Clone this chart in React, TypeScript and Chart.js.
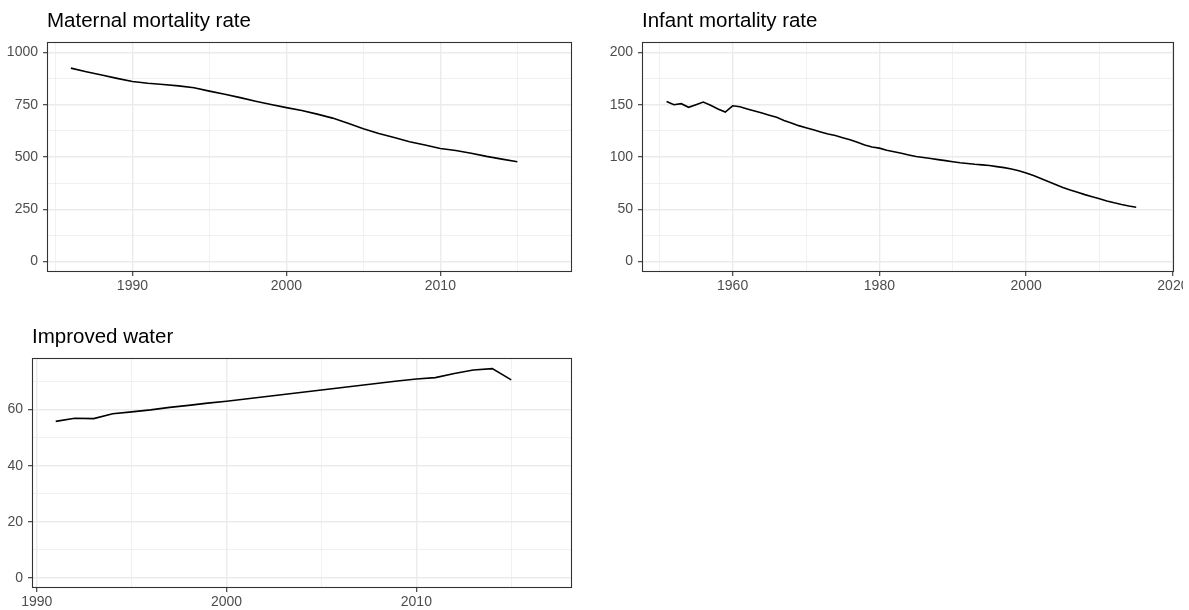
import React, { useEffect, useRef } from "react";
import { Chart, registerables } from "chart.js";

Chart.register(...registerables);

// ---------- Data ----------
const maternalYears = [
  1986, 1987, 1988, 1989, 1990, 1991, 1992, 1993, 1994, 1995,
  1996, 1997, 1998, 1999, 2000, 2001, 2002, 2003, 2004, 2005,
  2006, 2007, 2008, 2009, 2010, 2011, 2012, 2013, 2014, 2015,
];
const maternalValues = [
  925, 908, 892, 876, 861, 853, 847, 840, 831, 815,
  800, 784, 767, 751, 736, 722, 705, 686, 661, 635,
  612, 593, 573, 557, 541, 531, 518, 503, 490, 477,
];

const infantYears = [
  1951, 1952, 1953, 1954, 1955, 1956, 1957, 1958, 1959, 1960,
  1961, 1962, 1963, 1964, 1965, 1966, 1967, 1968, 1969, 1970,
  1971, 1972, 1973, 1974, 1975, 1976, 1977, 1978, 1979, 1980,
  1981, 1982, 1983, 1984, 1985, 1986, 1987, 1988, 1989, 1990,
  1991, 1992, 1993, 1994, 1995, 1996, 1997, 1998, 1999, 2000,
  2001, 2002, 2003, 2004, 2005, 2006, 2007, 2008, 2009, 2010,
  2011, 2012, 2013, 2014, 2015,
];
const infantValues = [
  153, 150, 151, 147.5, 150, 152.5, 149.5, 146, 143, 149,
  148, 146, 144, 142, 140, 138, 135, 132.5, 130, 128,
  126, 124, 122, 120.5, 118.5, 116.5, 114, 111.5, 109.5, 108.5,
  106.5, 105, 103.5, 102, 100.5, 99.5, 98.5, 97.5, 96.5, 95.5,
  94.5, 93.8, 93, 92.5, 91.8, 90.8, 89.8, 88.5, 86.8, 84.7,
  82.2, 79.4, 76.6, 73.7, 70.9, 68.4, 66.2, 64, 62, 60,
  58, 56.2, 54.6, 53.2, 52,
];

const waterYears = [
  1991, 1992, 1993, 1994, 1995, 1996, 1997, 1998, 1999, 2000,
  2001, 2002, 2003, 2004, 2005, 2006, 2007, 2008, 2009, 2010,
  2011, 2012, 2013, 2014, 2015,
];
const waterValues = [
  55.8, 56.9, 56.8, 58.5, 59.2, 59.9, 60.8, 61.5, 62.3, 63.0,
  63.8, 64.6, 65.4, 66.2, 67.0, 67.8, 68.6, 69.4, 70.2, 70.9,
  71.4, 72.9, 74.1, 74.6, 70.6,
];

// Tick values
const maternalXMajor = [1990, 2000, 2010];
const maternalXMinor = [1985, 1995, 2005, 2015];
const maternalYMajor = [0, 250, 500, 750, 1000];
const maternalYMinor = [125, 375, 625, 875];

const infantXMajor = [1960, 1980, 2000, 2020];
const infantXMinor = [1950, 1970, 1990, 2010];
const infantYMajor = [0, 50, 100, 150, 200];
const infantYMinor = [25, 75, 125, 175];

const waterXMajor = [1990, 2000, 2010];
const waterXMinor = [1995, 2005, 2015];
const waterYMajor = [0, 20, 40, 60];
const waterYMinor = [10, 30, 50, 70];

// ---------- Styling ----------
const FONT = '"Liberation Sans", Arial, Helvetica, sans-serif';
const GRID = "#EBEBEB";
const DARK = "#333333";
const TICK_TEXT = "#4D4D4D";
const TICK_SIZE = 14;
const TITLE_SIZE = 20.5;

type Spec = {
  title: string;
  years: number[];
  values: number[];
  xRange: [number, number];
  yRange: [number, number];
  xMajor: number[];
  xMinor: number[];
  yMajor: number[];
  yMinor: number[];
  left: number;
  top: number;
  width: number;
  height: number;
  yAxisWidth: number;
  padRight: number;
  plotBottom: number;
};

const panelBorder = {
  id: "panelBorder",
  afterDraw(chart: any) {
    const { ctx, chartArea: a } = chart;
    ctx.save();
    ctx.strokeStyle = DARK;
    ctx.lineWidth = 1.1;
    const l = Math.round(a.left) + 0.5;
    const t = Math.round(a.top) + 0.5;
    const r = Math.round(a.right) - 0.5;
    const b = Math.round(a.bottom) - 0.5;
    ctx.strokeRect(l, t, r - l, b - t);
    ctx.restore();
  },
};

function makeTicks(major: number[], minor: number[]) {
  return [...major, ...minor].sort((a, b) => a - b).map((v) => ({ value: v }));
}

function ChartPanel({ spec }: { spec: Spec }) {
  const ref = useRef<HTMLCanvasElement>(null);
  useEffect(() => {
    const canvas = ref.current;
    if (!canvas) return;
    const isXMajor = (v: number) => spec.xMajor.includes(v);
    const isYMajor = (v: number) => spec.yMajor.includes(v);
    const chart = new Chart(canvas, {
      type: "line",
      data: {
        datasets: [
          {
            data: spec.years.map((x, i) => ({ x, y: spec.values[i] })),
            borderColor: "#000000",
            borderWidth: 1.6,
            pointRadius: 0,
            tension: 0,
            fill: false,
          },
        ],
      },
      options: {
        responsive: false,
        animation: false,
        devicePixelRatio: 1,
        layout: { padding: { left: 0, right: spec.padRight, top: 0, bottom: 0 } },
        plugins: {
          legend: { display: false },
          tooltip: { enabled: false },
          title: {
            display: true,
            text: spec.title,
            align: "start",
            fullSize: false,
            color: "#000000",
            font: { family: FONT, size: TITLE_SIZE, weight: "normal", lineHeight: 1.2 },
            padding: { top: 8.9, bottom: 8.5 },
          },
        },
        scales: {
          x: {
            type: "linear",
            min: spec.xRange[0],
            max: spec.xRange[1],
            afterBuildTicks: (axis: any) => {
              axis.ticks = makeTicks(spec.xMajor, spec.xMinor);
            },
            afterFit: (axis: any) => {
              axis.height = spec.height - spec.plotBottom;
              axis.paddingLeft = 0;
              axis.paddingRight = 0;
            },
            ticks: {
              autoSkip: false,
              maxRotation: 0,
              minRotation: 0,
              padding: 3.5,
              color: TICK_TEXT,
              font: { family: FONT, size: TICK_SIZE, lineHeight: 1 },
              callback: (v: any) => (isXMajor(Number(v)) ? String(v) : ""),
            },
            grid: {
              color: GRID,
              lineWidth: (ctx: any) => (ctx.tick && isXMajor(ctx.tick.value) ? 1.4 : 0.7),
              tickColor: (ctx: any) => (ctx.tick && isXMajor(ctx.tick.value) ? DARK : "rgba(0,0,0,0)"),
              tickLength: 4,
              tickWidth: 1.1,
            },
            border: { display: false },
          },
          y: {
            type: "linear",
            min: spec.yRange[0],
            max: spec.yRange[1],
            afterBuildTicks: (axis: any) => {
              axis.ticks = makeTicks(spec.yMajor, spec.yMinor);
            },
            afterFit: (axis: any) => {
              axis.width = spec.yAxisWidth;
              axis.paddingTop = 0;
              axis.paddingBottom = 0;
            },
            ticks: {
              autoSkip: false,
              padding: 5,
              color: TICK_TEXT,
              font: { family: FONT, size: TICK_SIZE, lineHeight: 1 },
              callback: (v: any) => (isYMajor(Number(v)) ? String(v) : ""),
            },
            grid: {
              color: GRID,
              lineWidth: (ctx: any) => (ctx.tick && isYMajor(ctx.tick.value) ? 1.4 : 0.7),
              tickColor: (ctx: any) => (ctx.tick && isYMajor(ctx.tick.value) ? DARK : "rgba(0,0,0,0)"),
              tickLength: 4,
              tickWidth: 1.1,
            },
            border: { display: false },
          },
        },
      } as any,
      plugins: [panelBorder],
    });
    return () => chart.destroy();
  }, [spec]);
  return (
    <canvas
      ref={ref}
      width={spec.width}
      height={spec.height}
      style={{
        position: "absolute",
        left: spec.left,
        top: spec.top,
        width: spec.width,
        height: spec.height,
      }}
    />
  );
}

const panels: Spec[] = [
  {
    title: "Maternal mortality rate",
    years: maternalYears,
    values: maternalValues,
    xRange: [1984.45, 2018.55],
    yRange: [-50, 1050],
    xMajor: maternalXMajor,
    xMinor: maternalXMinor,
    yMajor: maternalYMajor,
    yMinor: maternalYMinor,
    left: 0,
    top: 0,
    width: 590,
    height: 305,
    yAxisWidth: 47,
    padRight: 18,
    plotBottom: 272,
  },
  {
    title: "Infant mortality rate",
    years: infantYears,
    values: infantValues,
    xRange: [1947.65, 2020.15],
    yRange: [-10, 210],
    xMajor: infantXMajor,
    xMinor: infantXMinor,
    yMajor: infantYMajor,
    yMinor: infantYMinor,
    left: 595,
    top: 0,
    width: 588,
    height: 305,
    yAxisWidth: 47,
    padRight: 9,
    plotBottom: 272,
  },
  {
    title: "Improved water",
    years: waterYears,
    values: waterValues,
    xRange: [1989.75, 2018.2],
    yRange: [-3.6, 78.4],
    xMajor: waterXMajor,
    xMinor: waterXMinor,
    yMajor: waterYMajor,
    yMinor: waterYMinor,
    left: 0,
    top: 316,
    width: 590,
    height: 294,
    yAxisWidth: 32,
    padRight: 18,
    plotBottom: 272,
  },
];

export default function App() {
  return (
    <div
      style={{
        position: "absolute",
        left: 0,
        top: 0,
        width: 1189,
        height: 610,
        overflow: "hidden",
        background: "#ffffff",
      }}
    >
      {panels.map((p) => (
        <ChartPanel key={p.title} spec={p} />
      ))}
    </div>
  );
}
